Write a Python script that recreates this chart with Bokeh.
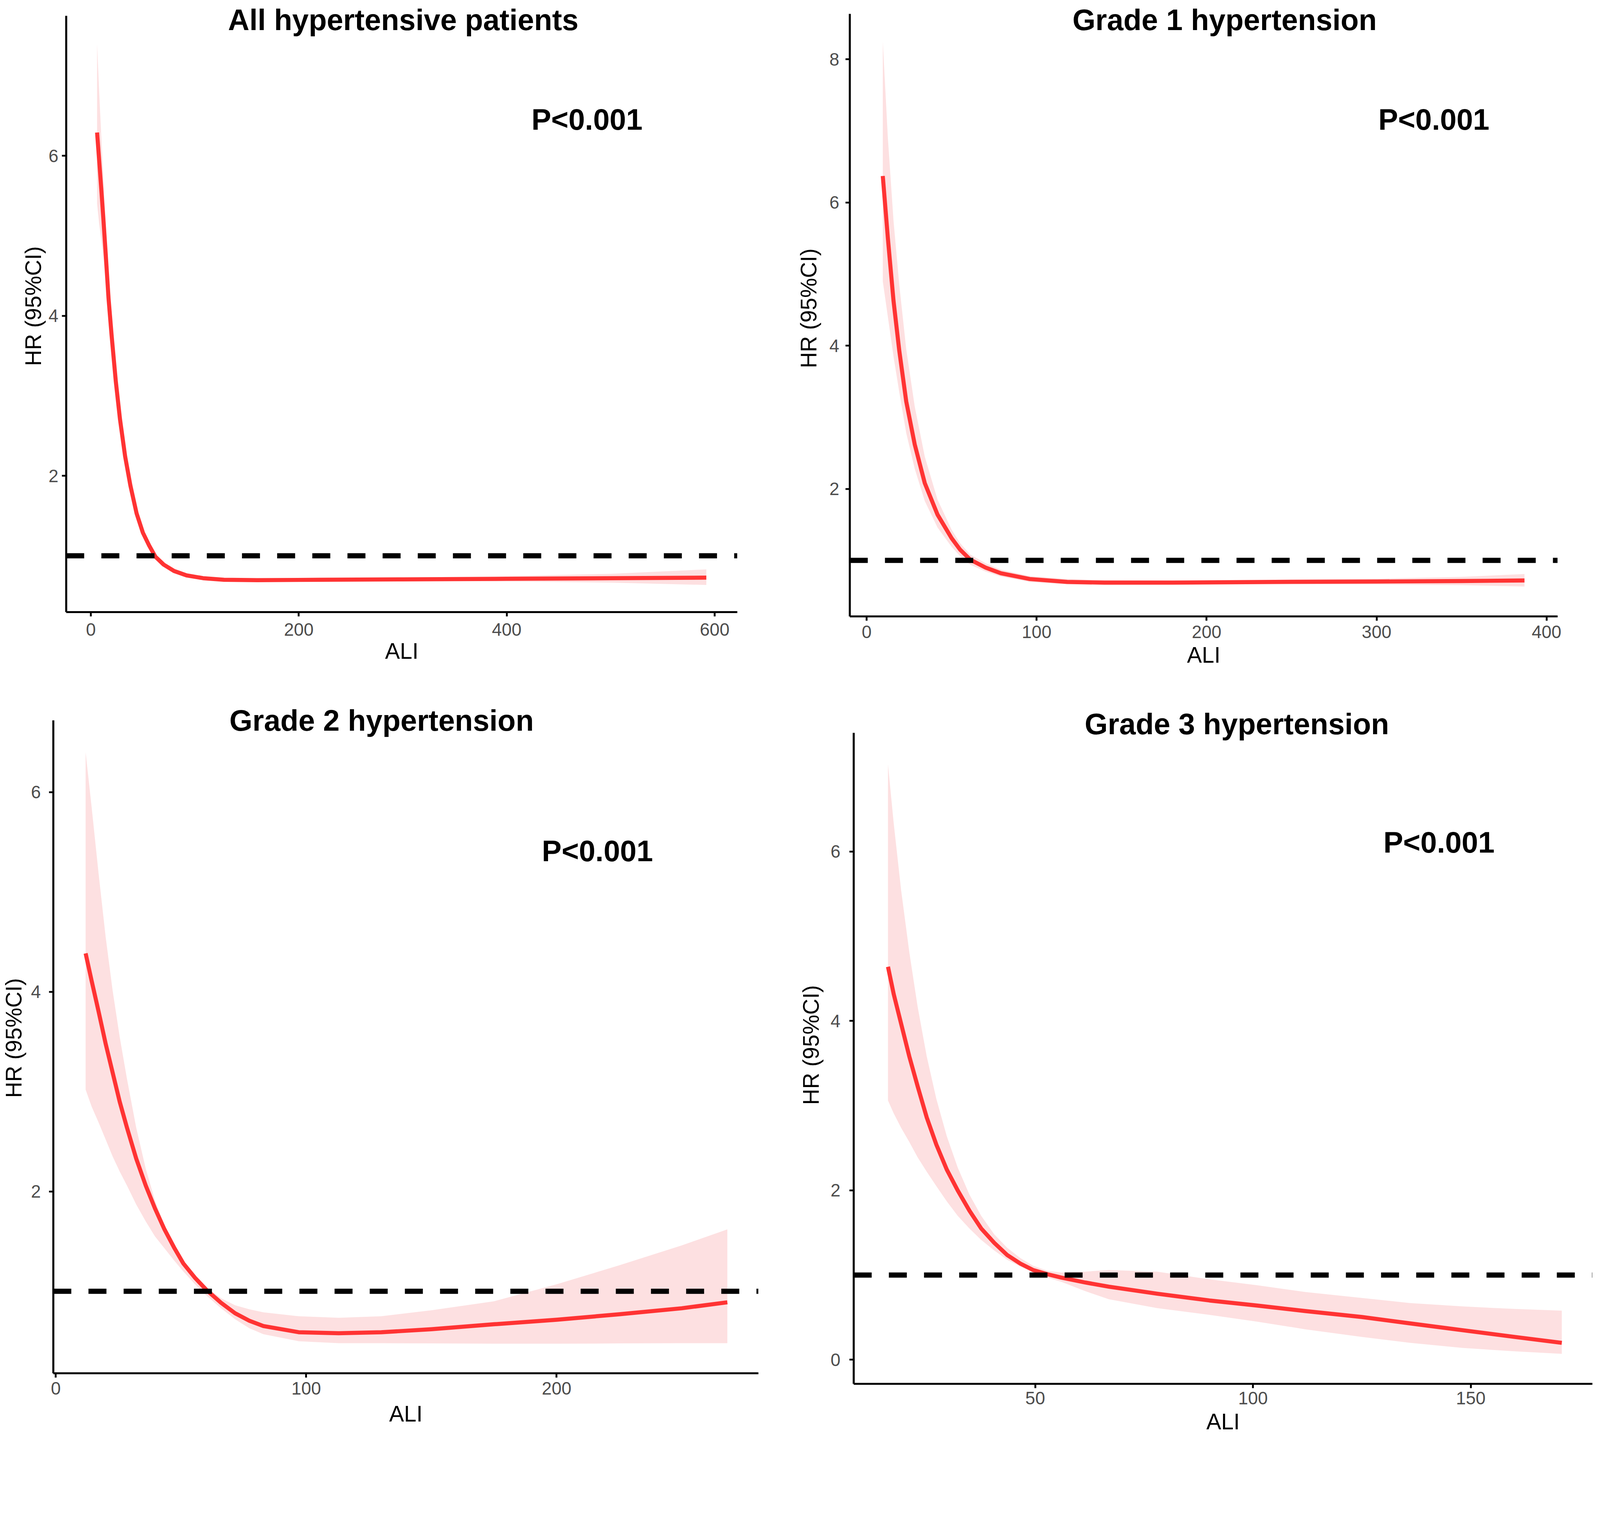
from bokeh.plotting import figure
from bokeh.layouts import column, row
from bokeh.models import Range1d, FixedTicker, Label, Span, Spacer
from bokeh.embed import file_html
from bokeh.resources import INLINE

# ---------------- data ----------------
# Panel 1: All hypertensive patients
ali_all = [6, 8, 10, 12, 14, 17, 20, 24, 28, 33, 38, 44, 50, 56, 62, 70, 80, 92, 108, 128, 160, 220, 300, 400, 500, 592]
hr_all = [6.29, 5.94, 5.59, 5.22, 4.83, 4.22, 3.75, 3.18, 2.71, 2.24, 1.88, 1.53, 1.29, 1.13, 0.99, 0.89, 0.81, 0.755, 0.72, 0.70, 0.695, 0.70, 0.705, 0.712, 0.72, 0.727]
up_all = [7.40, 6.80, 6.25, 5.72, 5.20, 4.55, 4.00, 3.36, 2.84, 2.32, 1.93, 1.57, 1.32, 1.15, 1.01, 0.905, 0.825, 0.772, 0.737, 0.717, 0.712, 0.718, 0.727, 0.745, 0.775, 0.83]
lo_all = [5.40, 5.15, 4.95, 4.75, 4.48, 3.92, 3.52, 3.02, 2.60, 2.17, 1.83, 1.50, 1.26, 1.11, 0.97, 0.875, 0.795, 0.74, 0.705, 0.685, 0.68, 0.683, 0.685, 0.68, 0.665, 0.635]

# Panel 2: Grade 1 hypertension
ali_g1 = [9.5, 12.5, 15.8, 19.2, 23.3, 28.3, 34.2, 41.7, 50, 55, 61, 70, 79, 96, 118, 140, 180, 240, 300, 350, 387]
hr_g1 = [6.37, 5.50, 4.63, 3.93, 3.22, 2.62, 2.08, 1.64, 1.31, 1.15, 1.01, 0.90, 0.82, 0.74, 0.70, 0.69, 0.69, 0.70, 0.705, 0.712, 0.72]
up_g1 = [8.25, 6.90, 5.75, 4.85, 3.95, 3.15, 2.45, 1.85, 1.43, 1.24, 1.08, 0.96, 0.87, 0.78, 0.74, 0.725, 0.72, 0.73, 0.745, 0.77, 0.81]
lo_g1 = [4.90, 4.40, 3.85, 3.35, 2.78, 2.28, 1.83, 1.46, 1.19, 1.06, 0.94, 0.845, 0.775, 0.70, 0.665, 0.655, 0.66, 0.665, 0.665, 0.655, 0.635]

# Panel 3: Grade 2 hypertension
ali_g2 = [11.9, 14.3, 17.1, 19.9, 22.7, 25.5, 28.4, 32.1, 35.9, 39.6, 43.4, 47.2, 50.9, 55.6, 60.3, 66.0, 71.6, 77.3, 82.9, 97, 113, 130, 150, 175, 200, 225, 250, 268.2]
hr_g2 = [4.385, 4.11, 3.80, 3.48, 3.19, 2.90, 2.64, 2.33, 2.06, 1.83, 1.62, 1.44, 1.28, 1.135, 1.01, 0.885, 0.78, 0.705, 0.652, 0.59, 0.58, 0.59, 0.62, 0.67, 0.715, 0.77, 0.83, 0.89]
up_g2 = [6.40, 5.85, 5.18, 4.55, 4.01, 3.55, 3.13, 2.64, 2.23, 1.91, 1.66, 1.47, 1.31, 1.16, 1.04, 0.93, 0.86, 0.82, 0.79, 0.75, 0.735, 0.75, 0.81, 0.90, 1.07, 1.26, 1.46, 1.62]
lo_g2 = [3.02, 2.85, 2.69, 2.52, 2.35, 2.20, 2.06, 1.87, 1.70, 1.55, 1.43, 1.31, 1.20, 1.07, 0.955, 0.83, 0.72, 0.63, 0.57, 0.50, 0.48, 0.48, 0.478, 0.475, 0.475, 0.478, 0.48, 0.48]

# Panel 4: Grade 3 hypertension
ali_g3 = [16.2, 17.5, 19.2, 21.1, 23.0, 25.1, 27.3, 29.7, 32.2, 34.9, 37.6, 40.6, 43.6, 46.6, 49.5, 52.8, 56.0, 61.5, 66.9, 78, 90, 101, 112, 125, 136, 148, 160, 170.9]
hr_g3 = [4.64, 4.32, 3.97, 3.58, 3.23, 2.86, 2.54, 2.245, 2.00, 1.76, 1.55, 1.38, 1.235, 1.135, 1.06, 1.01, 0.97, 0.912, 0.863, 0.78, 0.70, 0.64, 0.575, 0.505, 0.43, 0.35, 0.27, 0.20]
up_g3 = [7.03, 6.34, 5.55, 4.81, 4.17, 3.58, 3.08, 2.64, 2.27, 1.95, 1.70, 1.48, 1.32, 1.20, 1.11, 1.05, 1.03, 1.04, 1.06, 1.04, 0.95, 0.88, 0.80, 0.73, 0.67, 0.63, 0.60, 0.58]
lo_g3 = [3.06, 2.91, 2.74, 2.57, 2.39, 2.22, 2.05, 1.87, 1.70, 1.55, 1.415, 1.29, 1.18, 1.10, 1.035, 0.97, 0.92, 0.81, 0.715, 0.61, 0.53, 0.45, 0.36, 0.27, 0.20, 0.14, 0.10, 0.07]

titles = ["All hypertensive patients", "Grade 1 hypertension", "Grade 2 hypertension", "Grade 3 hypertension"]
p_text = "P<0.001"
x_ticks = [[0, 200, 400, 600], [0, 100, 200, 300, 400], [0, 100, 200], [50, 100, 150]]
y_ticks = [[2, 4, 6], [2, 4, 6, 8], [2, 4, 6], [0, 2, 4, 6]]

# ---------------- styling ----------------
FONT = "Liberation Sans"
LINE_RED = "#FF3333"
FILL_PINK = "#FDE0E1"
S = 0.948  # page pixels per picture pixel


def px(v):
    return int(round(v * S))


def panel(ali, hr, up, lo, title, xt, yt, xr, yr, ytop_axis, size, borders, stand, title_pos, p_pos):
    w, h = size
    bl, br, bt, bb = borders
    p = figure(width=px(w), height=px(h), x_range=Range1d(*xr), y_range=Range1d(*yr),
               output_backend="svg", toolbar_location=None, title=None,
               min_border_left=px(bl), min_border_right=px(br),
               min_border_top=px(bt), min_border_bottom=px(bb))
    p.outline_line_color = None
    p.xgrid.visible = False
    p.ygrid.visible = False
    p.background_fill_color = "white"
    p.border_fill_color = "white"

    p.varea(x=ali, y1=lo, y2=up, fill_color=FILL_PINK, fill_alpha=1.0)
    p.line(x=ali, y=hr, line_color=LINE_RED, line_width=11 * S, line_join="round")
    p.add_layout(Span(location=1, dimension="width", line_color="black",
                      line_width=14 * S, line_dash=f"{px(48)} {px(46)}"))

    ysd, ylsd, xsd, xlsd = stand
    for ax in (p.xaxis[0], p.yaxis[0]):
        ax.axis_line_color = "black"
        ax.axis_line_width = 5.5 * S
        ax.major_tick_line_color = "black"
        ax.major_tick_line_width = 5 * S
        ax.major_tick_out = px(12)
        ax.major_tick_in = 0
        ax.minor_tick_line_color = None
        ax.major_label_text_font = FONT
        ax.major_label_text_font_size = f"{48 * S:.1f}px"
        ax.major_label_text_color = "#4D4D4D"
        ax.axis_label_text_font = FONT
        ax.axis_label_text_font_size = f"{60 * S:.1f}px"
        ax.axis_label_text_font_style = "normal"
        ax.axis_label_text_color = "black"
    p.xaxis[0].ticker = FixedTicker(ticks=xt)
    p.yaxis[0].ticker = FixedTicker(ticks=yt)
    p.yaxis[0].bounds = (yr[0], ytop_axis)
    p.xaxis[0].axis_label = "ALI"
    p.yaxis[0].axis_label = "HR (95%CI)"
    p.yaxis[0].major_label_standoff = px(ysd)
    p.yaxis[0].axis_label_standoff = px(ylsd)
    p.xaxis[0].major_label_standoff = px(xsd)
    p.xaxis[0].axis_label_standoff = px(xlsd)

    for txt, pos in ((title, title_pos), (p_text, p_pos)):
        p.add_layout(Label(x=pos[0], y=pos[1], text=txt, text_align="center",
                           text_baseline="alphabetic", text_font=FONT,
                           text_font_size=f"{80 * S:.1f}px",
                           text_font_style="bold", text_color="black"))
    return p


# row 1: frames start at the top edge; equal top/bottom borders
p1 = panel(ali_all, hr_all, up_all, lo_all, titles[0], x_ticks[0], y_ticks[0],
           (-23.7, 621.8), (0.296, 7.944), 7.75, (2142, 1830), (178, 152, 0, 178),
           (10, 4, 18, 4), (300.5, 7.699), (477.2, 6.454))
p2 = panel(ali_g1, hr_g1, up_g1, lo_g1, titles[1], x_ticks[1], y_ticks[1],
           (-9.9, 406.5), (0.218, 8.826), 8.635, (2160, 1842), (152, 97, 0, 178),
           (17, 19, 13, 8), (210.6, 8.552), (333.7, 7.16))
# row 2: equal top/bottom borders; panel 4 sits slightly lower
p3 = panel(ali_g2, hr_g2, up_g2, lo_g2, titles[2], x_ticks[2], y_ticks[2],
           (-1.0, 280.6), (0.179, 6.895), 6.72, (2152, 2034), (137, 104, 55, 169),
           (22, 9, 12, 15), (130.1, 6.719), (216.3, 5.411))
p4 = panel(ali_g3, hr_g3, up_g3, lo_g3, titles[3], x_ticks[3], y_ticks[3],
           (8.33, 177.92), (-0.284, 7.715), 7.40, (2150, 2053), (153, 2, 55, 169),
           (24, 16, 9, 10), (96.3, 7.508), (142.7, 6.108))

layout = column(row(p1, p2), row(p3, column(Spacer(width=px(2150), height=px(10)), p4)))
open("out.html", "w").write(file_html(layout, INLINE))
